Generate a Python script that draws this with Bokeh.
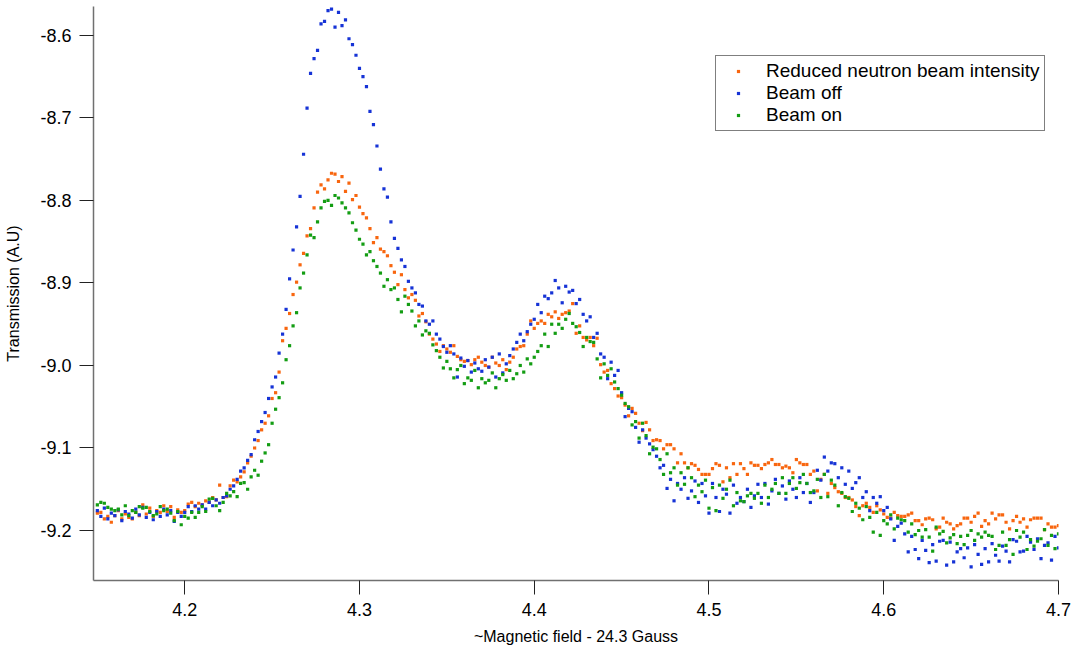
from bokeh.plotting import figure
from bokeh.models import Range1d, Legend, LegendItem, FixedTicker, PrintfTickFormatter
from bokeh.embed import file_html
from bokeh.resources import INLINE

# ~Magnetic field - 24.3 Gauss (sampling grid, step 0.002)
reduced_beam = [
    -9.179, -9.178, -9.186, -9.183, -9.190,
    -9.182, -9.176, -9.186, -9.180, -9.184,
    -9.186, -9.178, -9.182, -9.169, -9.180,
    -9.173, -9.183, -9.176, -9.178, -9.170,
    -9.177, -9.171, -9.184, -9.175, -9.178,
    -9.176, -9.168, -9.166, -9.171, -9.167,
    -9.169, -9.164, -9.166, -9.160, -9.163,
    -9.145, -9.160, -9.159, -9.146, -9.139,
    -9.141, -9.135, -9.129, -9.118, -9.110,
    -9.100, -9.091, -9.078, -9.070, -9.061,
    -9.040, -9.033, -9.008, -8.970, -8.955,
    -8.937, -8.914, -8.899, -8.878, -8.864,
    -8.843, -8.834, -8.809, -8.790, -8.781,
    -8.786, -8.775, -8.767, -8.768, -8.777,
    -8.771, -8.789, -8.779, -8.799, -8.794,
    -8.808, -8.816, -8.821, -8.834, -8.851,
    -8.845, -8.859, -8.862, -8.867, -8.879,
    -8.887, -8.902, -8.890, -8.908, -8.918,
    -8.914, -8.921, -8.940, -8.937, -8.947,
    -8.962, -8.968, -8.974, -8.983, -8.976,
    -8.980, -8.984, -8.976, -8.989, -8.993,
    -8.995, -8.994, -8.999, -8.993, -8.990,
    -8.996, -9.000, -9.002, -8.990, -8.997,
    -9.000, -8.993, -9.005, -8.996, -8.990,
    -8.980, -8.977, -8.976, -8.962, -8.946,
    -8.955, -8.949, -8.946, -8.949, -8.938,
    -8.941, -8.935, -8.943, -8.938, -8.936,
    -8.934, -8.925, -8.961, -8.952, -8.966,
    -8.969, -8.966, -8.976, -8.967, -8.999,
    -9.008, -9.006, -9.022, -9.028, -9.037,
    -9.039, -9.048, -9.061, -9.052, -9.058,
    -9.070, -9.079, -9.069, -9.078, -9.091,
    -9.090, -9.091, -9.101, -9.096, -9.096,
    -9.101, -9.118, -9.107, -9.118, -9.124,
    -9.119, -9.121, -9.126, -9.132, -9.132,
    -9.132, -9.125, -9.119, -9.121, -9.141,
    -9.124, -9.136, -9.119, -9.132, -9.119,
    -9.125, -9.132, -9.118, -9.121, -9.121,
    -9.125, -9.120, -9.118, -9.114, -9.120,
    -9.120, -9.124, -9.122, -9.124, -9.130,
    -9.114, -9.118, -9.120, -9.120, -9.132,
    -9.128, -9.152, -9.138, -9.132, -9.155,
    -9.143, -9.148, -9.153, -9.155, -9.160,
    -9.160, -9.163, -9.171, -9.182, -9.170,
    -9.167, -9.172, -9.178, -9.170, -9.175,
    -9.180, -9.184, -9.185, -9.178, -9.182,
    -9.183, -9.183, -9.181, -9.179, -9.188,
    -9.188, -9.193, -9.186, -9.185, -9.187,
    -9.198, -9.196, -9.185, -9.190, -9.192,
    -9.198, -9.194, -9.192, -9.185, -9.185,
    -9.190, -9.183, -9.179, -9.195, -9.188,
    -9.192, -9.179, -9.186, -9.181, -9.181,
    -9.190, -9.198, -9.188, -9.183, -9.190,
    -9.186, -9.196, -9.187, -9.185, -9.185,
    -9.185, -9.199, -9.192, -9.196, -9.196,
    -9.194,
]

beam_off = [
    -9.176, -9.183, -9.173, -9.186, -9.179,
    -9.182, -9.175, -9.188, -9.177, -9.180,
    -9.185, -9.174, -9.181, -9.172, -9.184,
    -9.178, -9.187, -9.177, -9.183, -9.174,
    -9.181, -9.176, -9.189, -9.178, -9.183,
    -9.178, -9.171, -9.177, -9.170, -9.174,
    -9.169, -9.174, -9.166, -9.170, -9.163,
    -9.167, -9.160, -9.158, -9.150, -9.146,
    -9.138, -9.128, -9.124, -9.115, -9.108,
    -9.090, -9.080, -9.068, -9.057, -9.040,
    -9.026, -9.014, -8.985, -8.962, -8.932,
    -8.895, -8.860, -8.832, -8.795, -8.744,
    -8.688, -8.646, -8.628, -8.618, -8.586,
    -8.583, -8.570, -8.568, -8.590, -8.572,
    -8.588, -8.581, -8.604, -8.611, -8.624,
    -8.640, -8.650, -8.662, -8.692, -8.708,
    -8.734, -8.762, -8.786, -8.796, -8.826,
    -8.846, -8.858, -8.872, -8.880, -8.898,
    -8.906, -8.912, -8.926, -8.928, -8.946,
    -8.950, -8.946, -8.962, -8.968, -8.977,
    -8.984, -8.976, -8.986, -9.014, -8.991,
    -9.001, -8.994, -9.008, -8.997, -9.004,
    -9.007, -8.993, -9.002, -8.990, -9.014,
    -8.986, -9.009, -8.998, -8.988, -8.980,
    -8.972, -8.962, -8.970, -8.959, -8.950,
    -8.944, -8.926, -8.936, -8.916, -8.919,
    -8.912, -8.897, -8.906, -8.924, -8.904,
    -8.911, -8.909, -8.925, -8.920, -8.938,
    -8.946, -8.941, -8.966, -8.961, -8.986,
    -8.990, -9.016, -8.996, -9.012, -9.006,
    -9.033, -9.062, -9.052, -9.056, -9.075,
    -9.093, -9.078, -9.088, -9.095, -9.102,
    -9.110, -9.124, -9.121, -9.149, -9.138,
    -9.164, -9.143, -9.150, -9.136, -9.161,
    -9.152, -9.140, -9.166, -9.143, -9.158,
    -9.179, -9.143, -9.160, -9.177, -9.150,
    -9.156, -9.179, -9.145, -9.167, -9.160,
    -9.165, -9.150, -9.172, -9.158, -9.144,
    -9.160, -9.143, -9.168, -9.152, -9.138,
    -9.155, -9.146, -9.162, -9.140, -9.150,
    -9.160, -9.136, -9.154, -9.143, -9.166,
    -9.154, -9.127, -9.139, -9.111, -9.128,
    -9.118, -9.119, -9.136, -9.124, -9.144,
    -9.128, -9.149, -9.142, -9.136, -9.160,
    -9.153, -9.176, -9.160, -9.167, -9.159,
    -9.176, -9.172, -9.186, -9.212, -9.195,
    -9.191, -9.204, -9.226, -9.207, -9.223,
    -9.234, -9.212, -9.224, -9.239, -9.217,
    -9.237, -9.213, -9.212, -9.242, -9.214,
    -9.238, -9.226, -9.222, -9.233, -9.221,
    -9.244, -9.217, -9.229, -9.241, -9.222,
    -9.238, -9.216, -9.230, -9.237, -9.219,
    -9.225, -9.238, -9.211, -9.213, -9.226,
    -9.225, -9.207, -9.214, -9.223, -9.210,
    -9.234, -9.218, -9.215, -9.236, -9.207,
    -9.221,
]

beam_on = [
    -9.169, -9.166, -9.167, -9.172, -9.174,
    -9.176, -9.174, -9.181, -9.170, -9.182,
    -9.176, -9.178, -9.171, -9.173, -9.172,
    -9.177, -9.182, -9.180, -9.171, -9.176,
    -9.174, -9.179, -9.188, -9.177, -9.193,
    -9.183, -9.185, -9.178, -9.184, -9.178,
    -9.171, -9.177, -9.162, -9.161, -9.170,
    -9.176, -9.166, -9.155, -9.158, -9.153,
    -9.159, -9.143, -9.142, -9.150, -9.135,
    -9.127, -9.133, -9.116, -9.106, -9.096,
    -9.070, -9.053, -9.039, -9.021, -8.993,
    -8.976, -8.952, -8.936, -8.906, -8.888,
    -8.866, -8.842, -8.845, -8.826, -8.809,
    -8.801, -8.800, -8.806, -8.794, -8.797,
    -8.803, -8.809, -8.815, -8.827, -8.836,
    -8.847, -8.853, -8.866, -8.862, -8.873,
    -8.880, -8.888, -8.904, -8.896, -8.908,
    -8.906, -8.920, -8.935, -8.916, -8.926,
    -8.934, -8.952, -8.946, -8.963, -8.958,
    -8.961, -8.975, -8.982, -8.990, -9.003,
    -8.995, -9.004, -9.015, -9.005, -9.000,
    -9.022, -9.015, -9.018, -9.006, -9.027,
    -9.016, -9.021, -9.018, -9.009, -9.027,
    -9.016, -9.011, -9.018, -9.006, -9.016,
    -9.010, -9.000, -9.008, -8.992, -8.998,
    -8.990, -8.983, -8.976, -8.962, -8.977,
    -8.950, -8.961, -8.950, -8.955, -8.944,
    -8.937, -8.949, -8.953, -8.960, -8.977,
    -8.966, -8.971, -8.972, -8.992, -9.015,
    -8.998, -9.012, -9.004, -9.020, -9.028,
    -9.036, -9.046, -9.050, -9.072, -9.068,
    -9.088, -9.070, -9.085, -9.107, -9.099,
    -9.101, -9.114, -9.132, -9.107, -9.130,
    -9.124, -9.145, -9.130, -9.144, -9.124,
    -9.136, -9.159, -9.145, -9.153, -9.139,
    -9.173, -9.148, -9.176, -9.145, -9.161,
    -9.150, -9.139, -9.170, -9.154, -9.164,
    -9.165, -9.158, -9.155, -9.161, -9.155,
    -9.167, -9.145, -9.160, -9.150, -9.143,
    -9.155, -9.136, -9.155, -9.143, -9.136,
    -9.149, -9.142, -9.132, -9.143, -9.154,
    -9.152, -9.138, -9.160, -9.132, -9.159,
    -9.139, -9.145, -9.170, -9.154, -9.159,
    -9.161, -9.177, -9.167, -9.173, -9.187,
    -9.171, -9.184, -9.202, -9.178, -9.206,
    -9.188, -9.192, -9.181, -9.198, -9.185,
    -9.187, -9.188, -9.202, -9.192, -9.205,
    -9.200, -9.208, -9.199, -9.208, -9.225,
    -9.196, -9.204, -9.201, -9.215, -9.209,
    -9.205, -9.216, -9.207, -9.217, -9.206,
    -9.200, -9.212, -9.204, -9.208, -9.202,
    -9.206, -9.207, -9.223, -9.218, -9.202,
    -9.218, -9.211, -9.229, -9.200, -9.208,
    -9.202, -9.223, -9.211, -9.219, -9.213,
    -9.210, -9.199, -9.218, -9.206, -9.222,
    -9.204,
]

field_start = 4.150
field_step = 0.002
field = [round(field_start + field_step * i, 3) for i in range(len(beam_off))]

series_names = ["Reduced neutron beam intensity", "Beam off", "Beam on"]
x_ticks = [4.2, 4.3, 4.4, 4.5, 4.6, 4.7]
y_ticks = [-9.2, -9.1, -9.0, -8.9, -8.8, -8.7, -8.6]

FONT = "Liberation Sans"
colors = ["#f8660f", "#1633d6", "#139d13"]

p = figure(width=1073, height=651, output_backend="svg", toolbar_location=None,
           x_range=Range1d(4.1478, 4.7), y_range=Range1d(-9.2606, -8.5649),
           min_border_left=93, min_border_right=15, min_border_top=6, min_border_bottom=71)
p.outline_line_color = None
p.xgrid.visible = False
p.ygrid.visible = False
p.background_fill_color = "white"
p.border_fill_color = "white"

renderers = []
for ys, c in zip([reduced_beam, beam_off, beam_on], colors):
    r = p.scatter(field, ys, marker="square", size=3.2, fill_color=c, line_color=None)
    renderers.append(r)

for ax in (p.xaxis[0], p.yaxis[0]):
    ax.axis_line_color = "#707070"
    ax.axis_line_width = 1.5
    ax.major_tick_line_color = "#222222"
    ax.major_tick_line_width = 1
    ax.major_tick_out = 14
    ax.major_tick_in = 0
    ax.minor_tick_line_color = None
    ax.major_label_text_font = FONT
    ax.major_label_text_font_size = "18px"
    ax.major_label_text_color = "#000000"
    ax.axis_label_text_font = FONT
    ax.axis_label_text_font_size = "16px"
    ax.axis_label_text_font_style = "normal"
    ax.axis_label_text_color = "#000000"
    ax.formatter = PrintfTickFormatter(format="%.1f")

p.xaxis[0].ticker = FixedTicker(ticks=x_ticks)
p.yaxis[0].ticker = FixedTicker(ticks=y_ticks)
p.xaxis[0].axis_label = "~Magnetic field - 24.3 Gauss"
p.yaxis[0].axis_label = "Transmission (A.U)"
p.xaxis[0].major_label_standoff = 8
p.yaxis[0].major_label_standoff = 8
p.xaxis[0].axis_label_standoff = 9
p.yaxis[0].axis_label_standoff = 15

legend = Legend(items=[LegendItem(label=n, renderers=[r]) for n, r in zip(series_names, renderers)],
                location=(622, 449))
legend.border_line_color = "#000000"
legend.border_line_width = 1
legend.background_fill_color = "white"
legend.background_fill_alpha = 1
legend.label_text_font = FONT
legend.label_text_font_size = "19px"
legend.label_text_color = "#000000"
legend.padding = 4
legend.spacing = 0
legend.margin = 0
legend.glyph_width = 36
legend.glyph_height = 8
legend.label_height = 21
legend.label_standoff = 10
p.add_layout(legend)

open("out.html", "w").write(file_html(p, INLINE))
